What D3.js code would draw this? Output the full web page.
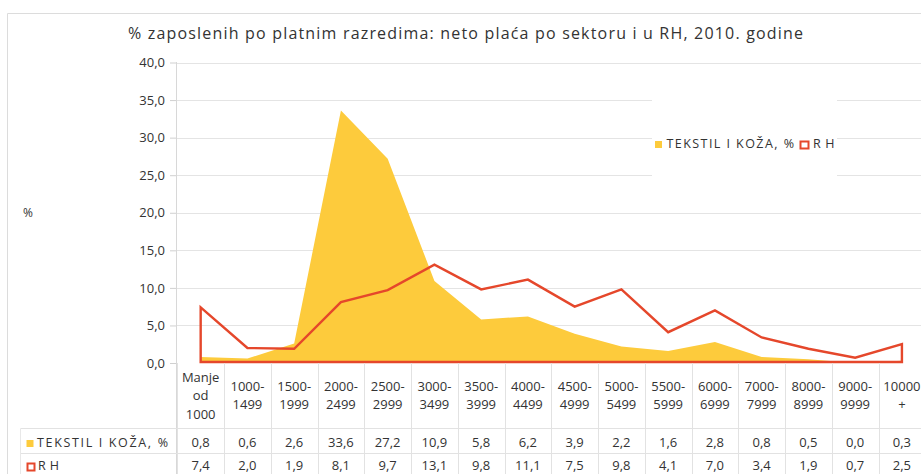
<!DOCTYPE html>
<html><head><meta charset="utf-8">
<script src="https://cdn.jsdelivr.net/npm/d3@7/dist/d3.min.js"></script>
<style>
html,body{margin:0;padding:0;background:#fff;}
svg{display:block;font-family:"Open Sans","Noto Sans",sans-serif;}
</style></head>
<body>
<svg id="chart" width="921" height="474"></svg>
<script>
const categories = [["Manje","od","1000"],["1000-","1499"],["1500-","1999"],["2000-","2499"],["2500-","2999"],["3000-","3499"],["3500-","3999"],["4000-","4499"],["4500-","4999"],["5000-","5499"],["5500-","5999"],["6000-","6999"],["7000-","7999"],["8000-","8999"],["9000-","9999"],["10000","+"]];
const tekstil = [0.8,0.6,2.6,33.6,27.2,10.9,5.8,6.2,3.9,2.2,1.6,2.8,0.8,0.5,0.0,0.3];
const rh = [7.4,2.0,1.9,8.1,9.7,13.1,9.8,11.1,7.5,9.8,4.1,7.0,3.4,1.9,0.7,2.5];
const yTicks = [0,5,10,15,20,25,30,35,40];
const seriesNames = ["TEKSTIL I KOŽA, %","RH"];
const titleText = "% zaposlenih po platnim razredima: neto plaća po sektoru i u RH, 2010. godine";

const YELLOW = "#fdcb3c", RED = "#e5472b", GRID = "#e4e4e4", TXT = "#333";
const fmt = v => d3.format(".1f")(v).replace(".", ",");

const svg = d3.select("#chart");
const idx = d3.range(categories.length);
const x = d3.scaleBand().domain(idx).range([177.3, 925.3]).padding(0);
const cx = i => x(i) + x.bandwidth()/2;
const y = d3.scaleLinear().domain([0,40]).range([363, 62.5]);

// outer frame
svg.append("path").attr("d","M7.5,474V13.5H921").attr("fill","none").attr("stroke","#dcdcdc");

// title
svg.append("text").attr("x",128).attr("y",39).attr("font-size",16).attr("fill",TXT)
  .attr("textLength",675).attr("lengthAdjust","spacing").text(titleText);

// gridlines
svg.append("g").selectAll("line").data(yTicks.slice(1)).join("line")
  .attr("x1",176.5).attr("x2",921).attr("y1",d=>Math.round(y(d))+0.5).attr("y2",d=>Math.round(y(d))+0.5)
  .attr("stroke",GRID);

// legend background (covers gridlines)
svg.append("rect").attr("x",652).attr("y",92).attr("width",185).attr("height",88).attr("fill","#fff");

// y axis
const yAxis = d3.axisLeft(y).tickValues(yTicks).tickFormat(fmt).tickSize(6.5).tickPadding(5);
const gy = svg.append("g").attr("transform","translate(176.5,0)").call(yAxis);
gy.select(".domain").remove();
gy.selectAll(".tick line").attr("stroke","#d0d0d0");
gy.selectAll(".tick text").attr("font-size",13).attr("fill",TXT).attr("font-family","'Open Sans',sans-serif");

// y axis label
svg.append("text").attr("x",23).attr("y",217).attr("font-size",12).attr("fill",TXT).text("%");

// axis vertical line
svg.append("line").attr("x1",176.5).attr("x2",176.5).attr("y1",62).attr("y2",474).attr("stroke","#d8d8d8");

// yellow area
const areaT = d3.area().x((d,i)=>cx(i)).y0(y(0)).y1(d=>y(d));
svg.append("path").datum(tekstil).attr("d",areaT).attr("fill",YELLOW);

// RH outline area
const areaR = d3.area().x((d,i)=>cx(i)).y0(y(0)-1).y1(d=>y(d));
svg.append("path").datum(rh).attr("d",areaR).attr("fill","none").attr("stroke",RED)
  .attr("stroke-width",2.4).attr("stroke-linejoin","miter");

// legend
const lg = svg.append("g");
lg.append("rect").attr("x",655).attr("y",141).attr("width",7).attr("height",7).attr("fill",YELLOW);
lg.append("text").attr("x",666.5).attr("y",148.3).attr("font-size",12.5).attr("fill",TXT)
  .attr("textLength",127.5).attr("lengthAdjust","spacing").text(seriesNames[0]);
lg.append("rect").attr("x",800.5).attr("y",141.5).attr("width",8).attr("height",7).attr("fill","none").attr("stroke",RED).attr("stroke-width",2);
lg.append("text").attr("x",813).attr("y",148.3).attr("font-size",12.5).attr("fill",TXT)
  .attr("textLength",21.5).attr("lengthAdjust","spacing").text(seriesNames[1]);

// data table
const tbl = svg.append("g");
tbl.selectAll("line.col").data(d3.range(categories.length+1)).join("line").attr("class","col")
  .attr("x1",i=>Math.round(177.3 + i*x.bandwidth())+0.5).attr("x2",i=>Math.round(177.3 + i*x.bandwidth())+0.5)
  .attr("y1",363).attr("y2",474).attr("stroke","#e2e2e2");
[428.5,453.5].forEach(yy=>tbl.append("line").attr("x1",20.5).attr("x2",921).attr("y1",yy).attr("y2",yy).attr("stroke","#e2e2e2"));
tbl.append("line").attr("x1",20.5).attr("x2",20.5).attr("y1",428.5).attr("y2",474).attr("stroke","#e8e8e8");

// header labels
categories.forEach((lines,i)=>{
  const base = lines.length===3 ? [381.5,400,418.7] : [390.5,409.2];
  lines.forEach((s,k)=>{
    tbl.append("text").attr("x",cx(i)).attr("y",base[k]).attr("text-anchor","middle")
      .attr("font-size",13).attr("fill",TXT).text(s);
  });
});
// values
[[tekstil,447],[rh,470]].forEach(([arr,by])=>{
  tbl.selectAll(null).data(arr).join("text").attr("x",(d,i)=>cx(i)).attr("y",by)
    .attr("text-anchor","middle").attr("font-size",13).attr("fill",TXT).text(fmt);
});
// row labels
tbl.append("rect").attr("x",26.5).attr("y",440).attr("width",7).attr("height",7).attr("fill",YELLOW);
tbl.append("text").attr("x",37).attr("y",447).attr("font-size",12.5).attr("fill",TXT)
  .attr("textLength",131).attr("lengthAdjust","spacing").text(seriesNames[0]);
tbl.append("rect").attr("x",27.5).attr("y",463.5).attr("width",7).attr("height",7).attr("fill","none").attr("stroke",RED).attr("stroke-width",2);
tbl.append("text").attr("x",38).attr("y",470).attr("font-size",12.5).attr("fill",TXT)
  .attr("textLength",21).attr("lengthAdjust","spacing").text(seriesNames[1]);
</script>
</body></html>
